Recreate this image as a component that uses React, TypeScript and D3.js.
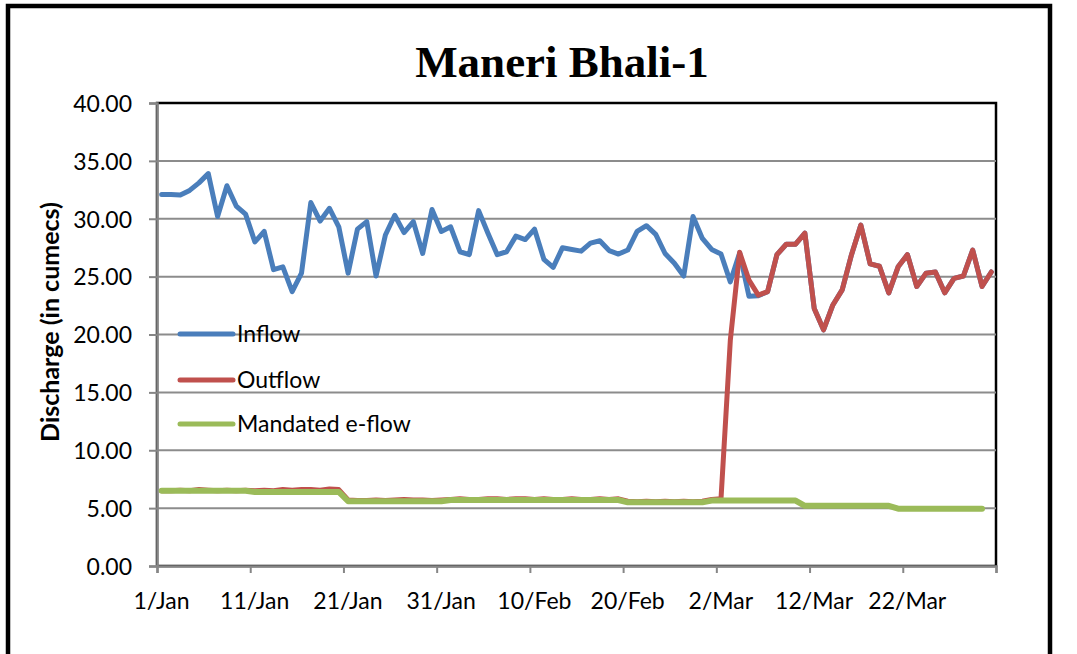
import { useEffect, useRef } from 'react';
import * as d3 from 'd3';

// daily values, 1 Jan .. 31 Mar
const inflow = [
  32.1, 32.1, 32.05, 32.45, 33.1, 33.9, 30.2, 32.85, 31.1, 30.4,
  28.0, 28.9, 25.6, 25.85, 23.7, 25.3, 31.4, 29.8, 30.9, 29.3,
  25.3, 29.1, 29.75, 25.05, 28.6, 30.3, 28.8, 29.75, 27.0, 30.8,
  28.9, 29.3, 27.15, 26.9, 30.7, 28.75, 26.9, 27.15, 28.5, 28.2,
  29.1, 26.5, 25.8, 27.5, 27.35, 27.2, 27.9, 28.1, 27.25, 26.95,
  27.3, 28.9, 29.4, 28.65, 27.0, 26.15, 25.05, 30.2, 28.3, 27.35,
  26.95, 24.55, 27.05, 23.3, 23.35, 23.7, 26.9, 27.8, 27.8, 28.75,
  22.25, 20.4, 22.55, 23.85, 26.9, 29.45, 26.1, 25.9, 23.6, 25.85,
  26.9, 24.15, 25.3, 25.4, 23.6, 24.85, 25.05, 27.3, 24.15, 25.4
];

const outflow = [
  6.5, 6.5, 6.55, 6.5, 6.6, 6.55, 6.5, 6.55, 6.5, 6.55,
  6.5, 6.55, 6.5, 6.6, 6.55, 6.6, 6.6, 6.55, 6.65, 6.6,
  5.7, 5.65, 5.65, 5.7, 5.65, 5.7, 5.75, 5.7, 5.7, 5.65,
  5.7, 5.75, 5.8, 5.75, 5.75, 5.8, 5.8, 5.75, 5.8, 5.8,
  5.75, 5.8, 5.75, 5.75, 5.8, 5.75, 5.75, 5.8, 5.75, 5.8,
  5.6, 5.55, 5.6, 5.55, 5.6, 5.55, 5.6, 5.55, 5.6, 5.75,
  5.8, 19.5, 27.1, 24.7, 23.4, 23.7, 26.9, 27.8, 27.8, 28.75,
  22.25, 20.4, 22.55, 23.85, 26.9, 29.45, 26.1, 25.9, 23.6, 25.85,
  26.9, 24.15, 25.3, 25.4, 23.6, 24.85, 25.05, 27.3, 24.15, 25.4
];

const eflow = [
  6.5, 6.5, 6.5, 6.5, 6.5, 6.5, 6.5, 6.5, 6.5, 6.5,
  6.4, 6.4, 6.4, 6.4, 6.4, 6.4, 6.4, 6.4, 6.4, 6.4,
  5.6, 5.6, 5.6, 5.6, 5.6, 5.6, 5.6, 5.6, 5.6, 5.6, 5.6,
  5.7, 5.7, 5.7, 5.7, 5.7, 5.7, 5.7, 5.7, 5.7, 5.7,
  5.7, 5.7, 5.7, 5.7, 5.7, 5.7, 5.7, 5.7, 5.7,
  5.5, 5.5, 5.5, 5.5, 5.5, 5.5, 5.5, 5.5, 5.5,
  5.65, 5.65, 5.65, 5.65, 5.65, 5.65, 5.65, 5.65, 5.65, 5.65,
  5.2, 5.2, 5.2, 5.2, 5.2, 5.2, 5.2, 5.2, 5.2, 5.2,
  4.95, 4.95, 4.95, 4.95, 4.95, 4.95, 4.95, 4.95, 4.95, 4.95
];

const xTickDays = [0, 10, 20, 30, 40, 50, 60, 70, 80, 90];
const xTickLabels = ['1/Jan', '11/Jan', '21/Jan', '31/Jan', '10/Feb', '20/Feb', '2/Mar', '12/Mar', '22/Mar', ''];
const yTicks = [0, 5, 10, 15, 20, 25, 30, 35, 40];

const seriesNames = ['Inflow', 'Outflow', 'Mandated e-flow'];
const seriesColors = ['#4a7ebb', '#c0504d', '#9bbb59'];

const font = 'Lato, "Open Sans", sans-serif';

const App = () => {
  const svgRef = useRef<SVGSVGElement>(null);

  useEffect(() => {
    const svg = d3.select(svgRef.current);
    svg.selectAll('*').remove();

    const plot = { left: 157, right: 996, top: 103, bottom: 566 };

    const x = d3.scaleLinear().domain([0, 90]).range([plot.left, plot.right]);
    const y = d3.scaleLinear().domain([0, 40]).range([plot.bottom, plot.top]);

    // outer frame
    svg.append('rect')
      .attr('x', 8).attr('y', 6).attr('width', 1042).attr('height', 720)
      .attr('fill', '#fff').attr('stroke', '#000').attr('stroke-width', 4.5);

    // title
    svg.append('text')
      .attr('x', 562).attr('y', 77)
      .attr('text-anchor', 'middle')
      .attr('font-family', '"Liberation Serif", "DejaVu Serif", serif')
      .attr('font-weight', 'bold').attr('font-size', 45)
      .text('Maneri Bhali-1');

    // plot border
    svg.append('rect')
      .attr('x', plot.left).attr('y', plot.top)
      .attr('width', plot.right - plot.left).attr('height', plot.bottom - plot.top)
      .attr('fill', 'none').attr('stroke', '#000').attr('stroke-width', 2.5);

    // gridlines
    svg.append('g').selectAll('line')
      .data(yTicks.filter(t => t > 0 && t < 40))
      .enter().append('line')
      .attr('x1', plot.left).attr('x2', plot.right)
      .attr('y1', d => y(d)).attr('y2', d => y(d))
      .attr('stroke', '#8c8c8c').attr('stroke-width', 2);

    // y axis
    const yAxis = svg.append('g')
      .attr('transform', `translate(${plot.left},0)`)
      .call(d3.axisLeft(y).tickValues(yTicks).tickSize(8).tickPadding(17).tickFormat(d => d3.format('.2f')(d as number)));
    yAxis.select('.domain').attr('stroke', '#868686').attr('stroke-width', 2.5);
    yAxis.selectAll('.tick line').attr('stroke', '#868686').attr('stroke-width', 2);
    yAxis.selectAll('.tick text')
      .attr('font-family', font).attr('font-size', 23).attr('fill', '#000')
      .attr('dy', '0.36em');

    // x axis
    const xAxis = svg.append('g')
      .attr('transform', `translate(0,${plot.bottom})`)
      .call(d3.axisBottom(x).tickValues(xTickDays).tickSize(7).tickPadding(20)
        .tickFormat((d, i) => xTickLabels[i]));
    xAxis.select('.domain').attr('stroke', '#868686').attr('stroke-width', 2.5);
    xAxis.selectAll('.tick line').attr('stroke', '#868686').attr('stroke-width', 2);
    xAxis.selectAll('.tick text')
      .attr('font-family', font).attr('font-size', 23).attr('fill', '#000')
      .attr('dx', 4);

    // y title
    svg.append('text')
      .attr('transform', 'translate(59,322) rotate(-90)')
      .attr('text-anchor', 'middle')
      .attr('font-family', font).attr('font-weight', 'bold').attr('font-size', 25)
      .text('Discharge (in cumecs)');

    const line = d3.line<number>()
      .x((d, i) => x(i + 0.5))
      .y(d => y(d));

    [inflow, outflow, eflow].forEach((s, k) => {
      svg.append('path')
        .datum(s)
        .attr('d', line)
        .attr('fill', 'none')
        .attr('stroke', seriesColors[k])
        .attr('stroke-width', k === 2 ? 6 : 5)
        .attr('stroke-linejoin', 'round')
        .attr('stroke-linecap', 'round');
    });

    // legend
    const legendY = [334, 380, 424];
    const legend = svg.append('g');
    seriesNames.forEach((name, k) => {
      legend.append('line')
        .attr('x1', 180).attr('x2', 233)
        .attr('y1', legendY[k]).attr('y2', legendY[k])
        .attr('stroke', seriesColors[k]).attr('stroke-width', 5)
        .attr('stroke-linecap', 'round');
      legend.append('text')
        .attr('x', 237).attr('y', legendY[k] + 8)
        .attr('font-family', font).attr('font-size', 23)
        .text(name);
    });
  }, []);

  return (
    <svg
      ref={svgRef}
      width={1077}
      height={654}
      style={{ position: 'absolute', left: 0, top: 0, background: '#fff' }}
    />
  );
};

export default App;
